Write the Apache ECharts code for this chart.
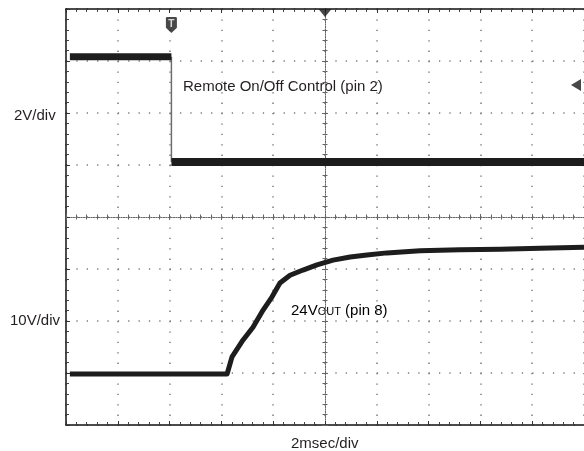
<!DOCTYPE html>
<html>
<head>
<meta charset="utf-8">
<script src="https://cdn.jsdelivr.net/npm/echarts@6/dist/echarts.min.js"></script>
<style>
  html, body { margin: 0; padding: 0; background: #fff; }
  #main { width: 584px; height: 451px; }
</style>
</head>
<body>
<div id="main"></div>
<script>
// time axis in ms (2 ms/div), vertical axis in screen divisions (centre = 0)
const timeRange = [-10, 10];
const divRange = [-4, 4];

// Remote On/Off control (pin 2), 2V/div
const remoteHigh = [[-9.85, 3.08], [-5.93, 3.08]];
const remoteLow = [[-5.93, 1.06], [10, 1.06]];

// 24Vout (pin 8), 10V/div
const vout = [
  [-9.85, -3.02], [-3.78, -3.02], [-3.59, -2.69], [-3.17, -2.37], [-2.78, -2.12],
  [-2.39, -1.79], [-2.05, -1.54], [-1.74, -1.27], [-1.35, -1.12], [-0.85, -1.02],
  [-0.31, -0.92], [0.31, -0.83], [0.97, -0.77], [1.62, -0.73], [2.39, -0.69],
  [3.67, -0.65], [5.21, -0.63], [6.76, -0.62], [8.30, -0.60], [10, -0.58]
];

// scope markers: trigger point, trigger position, trigger level
const triggerMark = [-5.93, 3.69];
const positionMark = [0, 4];
const levelMark = [9.69, 2.54];

const traceColor = '#1d1d1d';
const gridColor = '#7a7a7a';
const textColor = '#231f20';
const font = "'Liberation Sans', Arial, sans-serif";

const chart = echarts.init(document.getElementById('main'));

function borderAxis(pos) {
  return {
    type: 'value', position: pos, min: 0, max: 0,
    axisLine: { onZero: false, lineStyle: { color: '#111', width: 1.5 } },
    axisTick: { inside: true, length: 4, lineStyle: { color: '#333' } },
    minorTick: { show: true, splitNumber: 5, length: 3, lineStyle: { color: '#444' } },
    axisLabel: { show: false },
    splitLine: { show: false }
  };
}
function centreAxis(inside) {
  return {
    type: 'value', position: 'bottom', min: 0, max: 0,
    axisLine: { onZero: true, onZeroAxisIndex: 0, lineStyle: { color: '#666', width: 1, type: [1, 1.5] } },
    axisTick: { inside: inside, length: 3, lineStyle: { color: '#666' } },
    minorTick: { show: true, splitNumber: 5, length: 2.5, lineStyle: { color: '#666' } },
    axisLabel: { show: false },
    splitLine: { show: false }
  };
}

const xAxes = [borderAxis('bottom'), borderAxis('top'), centreAxis(true), centreAxis(false)];
xAxes.forEach(a => { a.min = timeRange[0]; a.max = timeRange[1]; a.interval = 2; });
xAxes[0].splitLine = { show: true, lineStyle: { color: gridColor, width: 1.5, type: [1.3, 9.1] } };

const yAxes = [borderAxis('left'), centreAxis(true), centreAxis(false)];
yAxes.forEach(a => { a.min = divRange[0]; a.max = divRange[1]; a.interval = 1; });
yAxes[1].position = 'left'; yAxes[2].position = 'left';
yAxes[0].splitLine = { show: true, lineStyle: { color: gridColor, width: 1.5, type: [1.3, 9.06] } };

const option = {
  animation: false,
  backgroundColor: '#fff',
  grid: { left: 66, right: 0, top: 9, bottom: 26 },
  xAxis: xAxes,
  yAxis: yAxes,
  graphic: [
    { type: 'text', left: 14, top: 108, style: { text: '2V/div', font: '15px ' + font, fill: textColor } },
    { type: 'text', left: 10, top: 313, style: { text: '10V/div', font: '15px ' + font, fill: textColor } },
    { type: 'text', left: 291, top: 436, style: { text: '2msec/div', font: '15px ' + font, fill: textColor } },
    { type: 'text', left: 183, top: 79, style: { text: 'Remote On/Off Control (pin 2)', font: '15px ' + font, fill: textColor } },
    { type: 'text', left: 291, top: 303, style: {
        text: '{a|24V}{b|OUT}{a| (pin 8)}',
        rich: {
          a: { fontSize: 15, fontFamily: font, color: textColor },
          b: { fontSize: 11, fontFamily: font, color: textColor, padding: [3, 0, 0, 0] }
        }
      } }
  ],
  series: [
    {
      name: 'Remote high', type: 'line', data: remoteHigh, showSymbol: false,
      lineStyle: { color: traceColor, width: 7 }, z: 5
    },
    {
      name: 'Remote edge', type: 'line', data: [remoteHigh[1], remoteLow[0]], showSymbol: false,
      lineStyle: { color: '#6e6e6e', width: 1.5 }, z: 4
    },
    {
      name: 'Remote low', type: 'line', data: remoteLow, showSymbol: false,
      lineStyle: { color: traceColor, width: 8 }, z: 5
    },
    {
      name: '24Vout', type: 'line', data: vout, showSymbol: false,
      lineStyle: { color: traceColor, width: 5, join: 'round' }, z: 5
    },
    {
      name: 'markers', type: 'scatter', z: 10, silent: true,
      data: [
        {
          value: triggerMark,
          symbol: 'path://M1,0 L9,0 Q10,0 10,1 L10,10 L5,15 L0,10 L0,1 Q0,0 1,0 Z',
          symbolSize: [11, 16],
          itemStyle: { color: '#1a1a1a' },
          label: { show: true, position: 'inside', formatter: 'T', color: '#fff', fontWeight: 'bold', fontSize: 10, fontFamily: font, offset: [0, -1] }
        },
        {
          value: positionMark, symbol: 'triangle', symbolRotate: 180, symbolSize: [13, 8],
          symbolOffset: [0, 4], itemStyle: { color: '#1a1a1a' }
        },
        {
          value: levelMark, symbol: 'triangle', symbolRotate: 90, symbolSize: [12, 10],
          itemStyle: { color: '#1a1a1a' }
        }
      ]
    }
  ]
};

chart.setOption(option);
</script>
</body>
</html>
